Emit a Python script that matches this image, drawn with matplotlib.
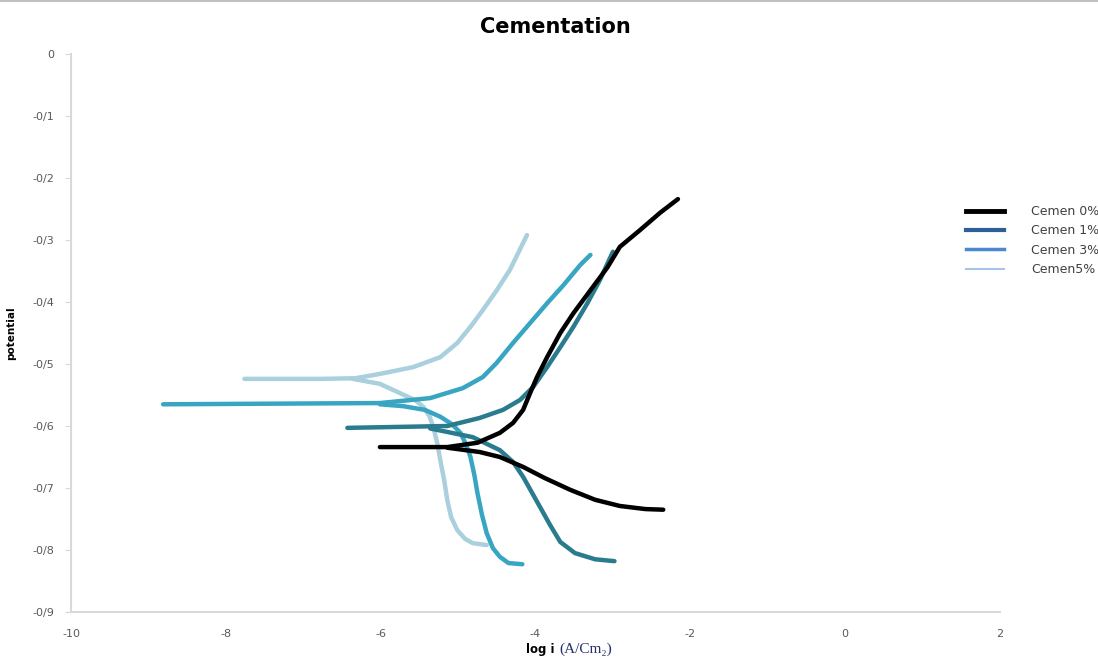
import matplotlib
matplotlib.use('Agg')
import matplotlib.pyplot as plt
from matplotlib.lines import Line2D
from matplotlib.ticker import FuncFormatter

# Tafel polarization curves: log i (A/cm2) vs potential
# anodic branch (a) and cathodic branch (c) for each sample
c0_ax = [-6.01, -5.14, -4.75, -4.46, -4.29, -4.16, -4.07, -3.98, -3.85, -3.68, -3.51, -3.29, -3.07, -2.91, -2.65, -2.39, -2.16]
c0_ay = [-0.634, -0.634, -0.627, -0.611, -0.595, -0.574, -0.547, -0.521, -0.489, -0.450, -0.418, -0.381, -0.344, -0.311, -0.284, -0.256, -0.234]
c0_cx = [-5.14, -4.72, -4.46, -4.16, -3.88, -3.55, -3.23, -2.91, -2.58, -2.35]
c0_cy = [-0.635, -0.642, -0.650, -0.666, -0.684, -0.703, -0.719, -0.729, -0.734, -0.735]

c1_ax = [-6.43, -5.14, -4.72, -4.42, -4.20, -4.03, -3.85, -3.68, -3.51, -3.33, -3.17, -3.00]
c1_ay = [-0.603, -0.600, -0.587, -0.574, -0.558, -0.537, -0.505, -0.473, -0.440, -0.402, -0.365, -0.319]
c1_cx = [-5.36, -4.81, -4.46, -4.29, -4.16, -3.94, -3.81, -3.68, -3.49, -3.23, -2.98]
c1_cy = [-0.604, -0.618, -0.639, -0.658, -0.682, -0.731, -0.760, -0.787, -0.805, -0.815, -0.818]

c3_ax = [-8.81, -6.01, -5.36, -4.94, -4.68, -4.50, -4.29, -4.07, -3.85, -3.64, -3.42, -3.29]
c3_ay = [-0.565, -0.563, -0.555, -0.539, -0.521, -0.498, -0.466, -0.434, -0.402, -0.373, -0.340, -0.324]
c3_cx = [-6.01, -5.71, -5.43, -5.23, -5.08, -4.97, -4.90, -4.84, -4.79, -4.75, -4.69, -4.63, -4.55, -4.46, -4.35, -4.17]
c3_cy = [-0.565, -0.568, -0.574, -0.585, -0.597, -0.611, -0.629, -0.650, -0.679, -0.708, -0.744, -0.773, -0.797, -0.811, -0.821, -0.823]

c5_ax = [-7.76, -6.78, -6.33, -6.01, -5.58, -5.23, -5.01, -4.84, -4.68, -4.50, -4.33, -4.11]
c5_ay = [-0.524, -0.524, -0.523, -0.516, -0.505, -0.489, -0.466, -0.440, -0.413, -0.381, -0.348, -0.292]
c5_cx = [-6.36, -6.01, -5.75, -5.56, -5.45, -5.37, -5.32, -5.27, -5.23, -5.18, -5.14, -5.09, -5.01, -4.91, -4.81, -4.63]
c5_cy = [-0.524, -0.532, -0.547, -0.558, -0.569, -0.584, -0.602, -0.627, -0.655, -0.687, -0.719, -0.747, -0.768, -0.782, -0.789, -0.792]

labels = ['Cemen 0%', 'Cemen 1%', 'Cemen 3%', 'Cemen5%']
line_colors = ['#000000', '#2b7b8e', '#38a6c2', '#a9d0dc']
legend_colors = ['#000000', '#2f5f98', '#4a88d4', '#a8c4ea']

fig = plt.figure(figsize=(10.98, 6.58), dpi=100)
ax = fig.add_axes([71 / 1098, 1 - 612 / 658, 929 / 1098, 558 / 658])

curves = [(c0_ax, c0_ay, c0_cx, c0_cy), (c1_ax, c1_ay, c1_cx, c1_cy),
          (c3_ax, c3_ay, c3_cx, c3_cy), (c5_ax, c5_ay, c5_cx, c5_cy)]
# lighter curves first so the black one stays on top
for i in [3, 2, 1, 0]:
    xa, ya, xc, yc = curves[i]
    for xs, ys in [(xa, ya), (xc, yc)]:
        ax.plot(xs, ys, color=line_colors[i], lw=3.2,
                solid_capstyle='round', solid_joinstyle='round')

ax.set_xlim(-10, 2)
ax.set_ylim(-0.9, 0)
ax.set_xticks(range(-10, 3, 2))
ax.set_yticks([-0.1 * k for k in range(10)])
ax.yaxis.set_major_formatter(FuncFormatter(lambda v, p: '0' if abs(v) < 1e-9 else f'{v:.1f}'.replace('.', '/')))
ax.xaxis.set_major_formatter(FuncFormatter(lambda v, p: f'{int(round(v))}'))

for s in ['top', 'right']:
    ax.spines[s].set_visible(False)
for s in ['left', 'bottom']:
    ax.spines[s].set_color('#d9d9d9')
    ax.spines[s].set_linewidth(1.5)
ax.tick_params(axis='y', length=4, color='#d9d9d9', labelsize=8, labelcolor='#595959', pad=8)
ax.tick_params(axis='x', length=0, labelsize=8, labelcolor='#595959', pad=12)

fig.suptitle('Cementation', x=555 / 1098, y=1 - 17 / 658, fontsize=15, fontweight='bold', va='top')
ax.set_ylabel('potential', fontsize=7.5, fontweight='bold', labelpad=12)

fig.text(0.505, 0.003, 'log i', fontsize=8.5, fontweight='bold', ha='right', va='bottom')
fig.text(0.509, 0.003, '(A/Cm\u2082)', fontsize=11, family='Liberation Serif',
         color='#26306a', ha='left', va='bottom')

handles = [Line2D([], [], color=legend_colors[0], lw=3.5),
           Line2D([], [], color=legend_colors[1], lw=3),
           Line2D([], [], color=legend_colors[2], lw=2.5),
           Line2D([], [], color=legend_colors[3], lw=1.5)]
fig.legend(handles, labels, loc='upper left', bbox_to_anchor=(955 / 1098, 1 - 194 / 658),
           frameon=False, fontsize=9, handlelength=3.0, labelspacing=0.5,
           handletextpad=2.2, labelcolor='#404040')

fig.add_artist(Line2D([0, 1], [0.998, 0.998], transform=fig.transFigure, color='#c0c0c0', lw=1.5))

fig.savefig('out.png', dpi=100)
